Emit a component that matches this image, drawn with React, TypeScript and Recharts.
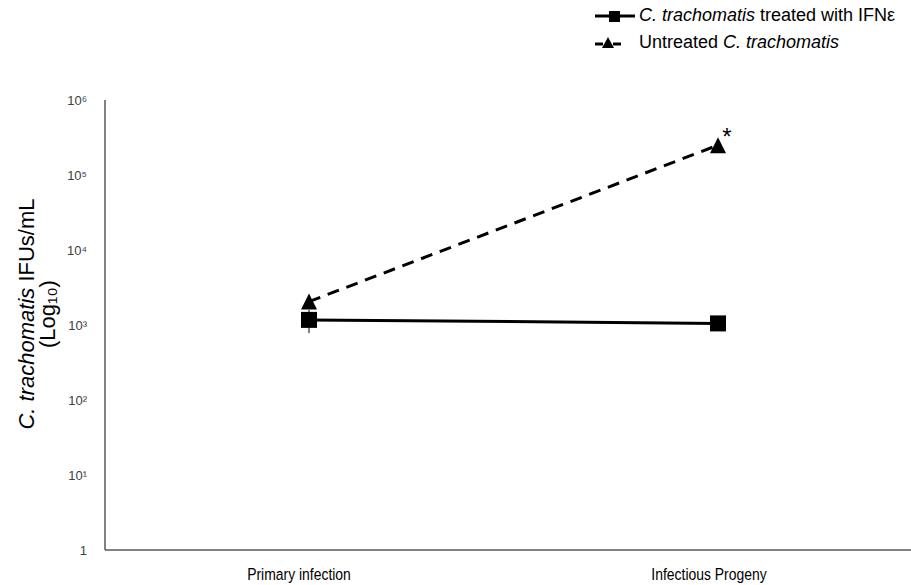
import { LineChart, Line, XAxis, YAxis, ErrorBar, LabelList } from 'recharts';

const stages = ['Primary infection', 'Infectious Progeny'];
const treated = [1170, 1050];
const treatedErr = [[390, 420], [0, 0]];
const untreated = [2050, 250000];
const marks = ['', '*'];
const yTicks = [1, 10, 100, 1000, 10000, 100000, 1000000];
const yTickLabels = ['1', '10¹', '10²', '10³', '10⁴', '10⁵', '10⁶'];

const data = stages.map((stage, i) => ({
  stage,
  treated: treated[i],
  treatedErr: treatedErr[i],
  untreated: untreated[i],
  mark: marks[i],
}));

const FONT = '"Liberation Sans", Arial, sans-serif';

const SquareDot = (props: any) => {
  const { cx, cy } = props;
  if (cx == null || cy == null) return null;
  return <rect x={cx - 8} y={cy - 8} width={16} height={16} fill="#000" />;
};

const TriangleDot = (props: any) => {
  const { cx, cy } = props;
  if (cx == null || cy == null) return null;
  return <polygon points={`${cx},${cy - 8} ${cx + 8},${cy + 8} ${cx - 8},${cy + 8}`} fill="#000" />;
};

const Star = (props: any) => {
  const { x, y, value } = props;
  if (!value) return null;
  return (
    <text x={x + 9} y={y} textAnchor="middle" fontSize={24} fontFamily={FONT} fill="#000">
      {value}
    </text>
  );
};

// narrow-looking category labels (Arial Narrow in the original)
const NarrowTick = (props: any) => {
  const { x, y, payload } = props;
  return (
    <g transform={`translate(${x},${y}) scale(0.82,1)`}>
      <text x={0} y={0} dy={22} textAnchor="middle" fontSize={17} fontFamily={FONT} fill="#000">
        {payload.value}
      </text>
    </g>
  );
};

const YLabel = () => (
  <text transform="rotate(-90, 34, 314)" x={34} y={314} textAnchor="middle" fontSize={22} fontFamily={FONT} fill="#000">
    <tspan x={34} dy={0}>
      <tspan fontStyle="italic">C. trachomatis</tspan> IFUs/mL
    </tspan>
    <tspan x={34} dy={21}>(Log₁₀)</tspan>
  </text>
);

const LegendBox = () => (
  <div
    style={{
      position: 'absolute',
      left: 594,
      top: 2,
      fontFamily: FONT,
      fontSize: 18,
      color: '#000',
      lineHeight: '27px',
      whiteSpace: 'nowrap',
    }}
  >
    <div style={{ display: 'flex', alignItems: 'center' }}>
      <svg width={45} height={18}>
        <line x1={1} y1={9} x2={41} y2={9} stroke="#000" strokeWidth={3} />
        <rect x={15} y={4} width={11} height={11} fill="#000" />
      </svg>
      <span>
        <i>C. trachomatis</i> treated with IFNε
      </span>
    </div>
    <div style={{ display: 'flex', alignItems: 'center' }}>
      <svg width={45} height={18}>
        <line x1={1} y1={10} x2={9} y2={10} stroke="#000" strokeWidth={3} />
        <line x1={19} y1={10} x2={27} y2={10} stroke="#000" strokeWidth={3} />
        <polygon points="14,3 20,14 8,14" fill="#000" />
      </svg>
      <span>
        Untreated <i>C. trachomatis</i>
      </span>
    </div>
  </div>
);

export default function App() {
  return (
    <div style={{ position: 'absolute', left: 0, top: 0, width: 911, height: 585, background: '#fff' }}>
      <LineChart width={911} height={585} data={data} margin={{ top: 100, right: 0, bottom: 5, left: 0 }}>
        <XAxis xAxisId="pts" dataKey="stage" hide scale="point" padding={{ left: 204, right: 193 }} />
        <XAxis
          xAxisId="lbl"
          dataKey="stage"
          scale="point"
          height={30}
          interval={0}
          padding={{ left: 194, right: 202 }}
          axisLine={{ stroke: '#595959', strokeWidth: 1.5 }}
          tickLine={false}
          tick={<NarrowTick />}
        />
        <YAxis
          width={105}
          scale="log"
          domain={[1, 1000000]}
          ticks={yTicks}
          allowDataOverflow
          tickFormatter={(v: number) => yTickLabels[yTicks.indexOf(v)] ?? String(v)}
          axisLine={{ stroke: '#595959', strokeWidth: 1.5 }}
          tickLine={false}
          tickMargin={12}
          tick={{ fill: '#404040', fontSize: 13, fontFamily: FONT }}
          label={<YLabel />}
        />
        <Line
          xAxisId="pts"
          dataKey="treated"
          stroke="#000"
          strokeWidth={3}
          dot={<SquareDot />}
          activeDot={false}
          isAnimationActive={false}
        >
          <ErrorBar dataKey="treatedErr" width={0} stroke="#000" strokeWidth={1} direction="y" />
        </Line>
        <Line
          xAxisId="pts"
          dataKey="untreated"
          stroke="#000"
          strokeWidth={3}
          strokeDasharray="12 8"
          dot={<TriangleDot />}
          activeDot={false}
          isAnimationActive={false}
        >
          <LabelList dataKey="mark" content={<Star />} />
        </Line>
      </LineChart>
      <LegendBox />
    </div>
  );
}
